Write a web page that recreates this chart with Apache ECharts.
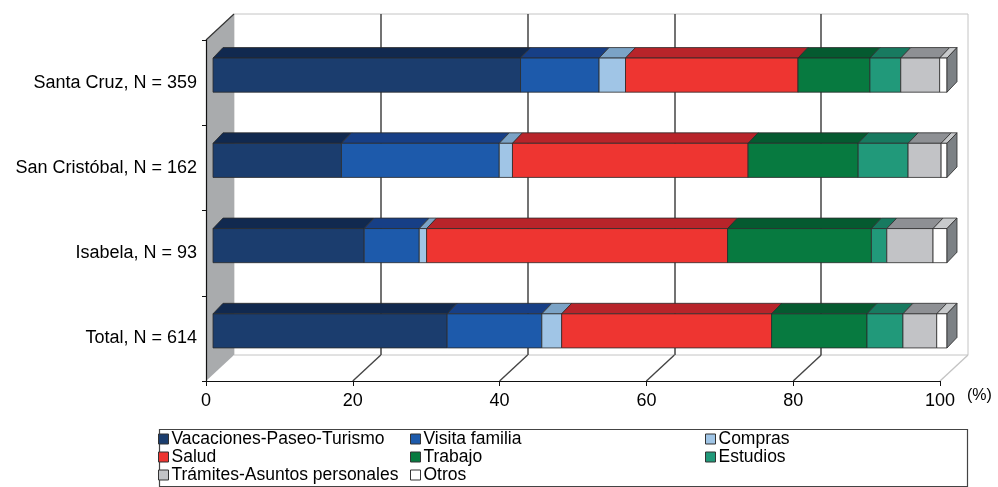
<!DOCTYPE html>
<html>
<head>
<meta charset="utf-8">
<script src="https://cdn.jsdelivr.net/npm/echarts@6/dist/echarts.min.js"></script>
<style>
  html, body { margin: 0; padding: 0; background: #fff; }
  #main { width: 998px; height: 487px; }
</style>
</head>
<body>
<div id="main"></div>
<script>
// datos (porcentajes por isla)
const categories = ['Santa Cruz, N = 359', 'San Cristóbal, N = 162', 'Isabela, N = 93', 'Total, N = 614']
const seriesNames = ['Vacaciones-Paseo-Turismo', 'Visita familia', 'Compras', 'Salud', 'Trabajo', 'Estudios', 'Trámites-Asuntos personales', 'Otros']
const vacaciones = [41.9, 17.5, 20.6, 31.9]
const visitaFamilia = [10.7, 21.5, 7.5, 12.9]
const compras = [3.6, 1.8, 1.0, 2.7]
const salud = [23.5, 32.1, 41.0, 28.6]
const trabajo = [9.8, 15.0, 19.6, 13.0]
const estudios = [4.2, 6.8, 2.1, 4.9]
const tramites = [5.3, 4.5, 6.3, 4.6]
const otros = [1.0, 0.8, 1.9, 1.4]
const xTicks = [0, 20, 40, 60, 80, 100]

const values = [vacaciones, visitaFamilia, compras, salud, trabajo, estudios, tramites, otros]
const frontColors = ['#1b3d6e', '#1d5aab', '#a0c5e6', '#ee3531', '#077a40', '#21997a', '#c2c3c6', '#ffffff']
const topColors = ['#11294f', '#173f86', '#7ba3c6', '#b8242a', '#055a30', '#187a60', '#8e9094', '#c8cacc']
const sideColor = '#7c8185'
const edge = '#2b2b2b'
const font = 'Liberation Sans, Arial, sans-serif'

// profundidad del "3D"
const DX = 28
const DY = -26
const BAR_OFF = [7, -7.5]
const BAR_D = [10, -10.5]

// pisos acumulados para apilar
const starts = values.map((arr, i) => arr.map((v, j) => {
  let s = 0
  for (let k = 0; k < i; k++) s += values[k][j]
  return s
}))

function barRender (i) {
  return function (params, api) {
    const p0 = api.coord([api.value(0), api.value(2)])
    const p1 = api.coord([api.value(1), api.value(2)])
    const h = api.size([0, 1])[1] * 0.4
    const x0 = p0[0] + BAR_OFF[0]
    const x1 = p1[0] + BAR_OFF[0]
    const yc = p0[1] + BAR_OFF[1]
    const top = yc - h / 2
    const bot = yc + h / 2
    const children = [{
      type: 'polygon',
      shape: { points: [[x0, top], [x0 + BAR_D[0], top + BAR_D[1]], [x1 + BAR_D[0], top + BAR_D[1]], [x1, top]] },
      style: { fill: topColors[i], stroke: edge, lineWidth: 0.8 }
    }, {
      type: 'rect',
      shape: { x: x0, y: top, width: x1 - x0, height: h },
      style: { fill: frontColors[i], stroke: edge, lineWidth: 0.8 }
    }]
    if (i === values.length - 1) {
      children.push({
        type: 'polygon',
        shape: { points: [[x1, top], [x1 + BAR_D[0], top + BAR_D[1]], [x1 + BAR_D[0], bot + BAR_D[1]], [x1, bot]] },
        style: { fill: sideColor, stroke: edge, lineWidth: 0.8 }
      })
    }
    return { type: 'group', children }
  }
}

// pared izquierda y líneas del piso
function frameRender (params, api) {
  const cs = params.coordSys
  const v = api.value(0)
  const x = api.coord([v, 0])[0]
  const bottom = cs.y + cs.height
  if (v === 0) {
    return {
      type: 'group',
      children: [{
        type: 'polygon',
        shape: { points: [[cs.x, cs.y], [cs.x + DX, cs.y + DY], [cs.x + DX, bottom + DY], [cs.x, bottom]] },
        style: { fill: '#a9abad' }
      }, {
        type: 'line',
        shape: { x1: cs.x, y1: cs.y, x2: cs.x + DX, y2: cs.y + DY },
        style: { stroke: '#333', lineWidth: 1.2 }
      }]
    }
  }
  return {
    type: 'line',
    shape: { x1: x, y1: bottom, x2: x + DX, y2: bottom + DY },
    style: { stroke: v === 100 ? '#c4c4c4' : '#444', lineWidth: 1.4 }
  }
}

const series = [{
  type: 'custom',
  xAxisIndex: 0,
  yAxisIndex: 0,
  z: 1,
  silent: true,
  renderItem: frameRender,
  encode: { x: 0, y: 1 },
  data: xTicks.map(v => [v, 0])
}]
values.forEach((arr, i) => {
  series.push({
    name: seriesNames[i],
    type: 'custom',
    xAxisIndex: 0,
    yAxisIndex: 0,
    z: 2,
    itemStyle: { color: frontColors[i] },
    renderItem: barRender(i),
    encode: { x: [0, 1], y: 2 },
    data: arr.map((v, j) => [starts[i][j], starts[i][j] + v, j])
  })
})

const legendCols = [[0, 3, 6], [1, 4, 7], [2, 5]]
const legendLeft = [158, 410, 705]
const legend = legendCols.map((idx, k) => ({
  data: idx.map(i => seriesNames[i]),
  orient: 'vertical',
  left: legendLeft[k],
  top: 430,
  itemGap: 0,
  itemWidth: 10,
  itemHeight: 10,
  icon: 'rect',
  selectedMode: false,
  padding: 0,
  itemStyle: { borderColor: '#333', borderWidth: 1 },
  textStyle: { fontSize: 17.5, lineHeight: 14, color: '#000', fontFamily: font, padding: [0, 0, 0, -2] }
}))

const option = {
  animation: false,
  backgroundColor: '#fff',
  legend,
  grid: [
    { left: 206, right: 58, top: 40, bottom: 106 },
    { left: 234, right: 30, top: 14, bottom: 132, show: true, backgroundColor: '#fff', borderColor: '#c4c4c4', borderWidth: 1 }
  ],
  xAxis: [{
    gridIndex: 0,
    type: 'value',
    min: 0,
    max: 100,
    interval: 20,
    z: 5,
    axisLine: { show: true, lineStyle: { color: '#111', width: 1.2 } },
    axisTick: { show: true, length: 5, lineStyle: { color: '#111' } },
    axisLabel: { fontSize: 18, color: '#000', margin: 11, fontFamily: font },
    splitLine: { show: false },
    name: '(%)',
    nameLocation: 'end',
    nameGap: 27,
    nameTextStyle: { fontSize: 16, color: '#000', fontFamily: font, verticalAlign: 'top', padding: [7, 0, 0, 0] }
  }, {
    gridIndex: 1,
    type: 'value',
    min: 0,
    max: 100,
    interval: 20,
    axisLine: { show: false },
    axisTick: { show: false },
    axisLabel: { show: false },
    splitLine: { show: true, showMinLine: false, showMaxLine: false, lineStyle: { color: '#444', width: 1.5 } }
  }],
  yAxis: [{
    gridIndex: 0,
    type: 'category',
    inverse: true,
    data: categories,
    z: 5,
    axisLine: { show: true, lineStyle: { color: '#111', width: 1.2 } },
    axisTick: { show: true, length: 4, lineStyle: { color: '#111' } },
    axisLabel: { fontSize: 18, color: '#000', margin: 9, fontFamily: font }
  }, {
    gridIndex: 1,
    type: 'value',
    show: false
  }],
  graphic: [{
    type: 'rect',
    left: 157,
    top: 427,
    z: 0,
    shape: { width: 808, height: 57 },
    style: { fill: 'none', stroke: '#444', lineWidth: 1.2 }
  }],
  series
}

const chart = echarts.init(document.getElementById('main'))
chart.setOption(option, true)
</script>
</body>
</html>
